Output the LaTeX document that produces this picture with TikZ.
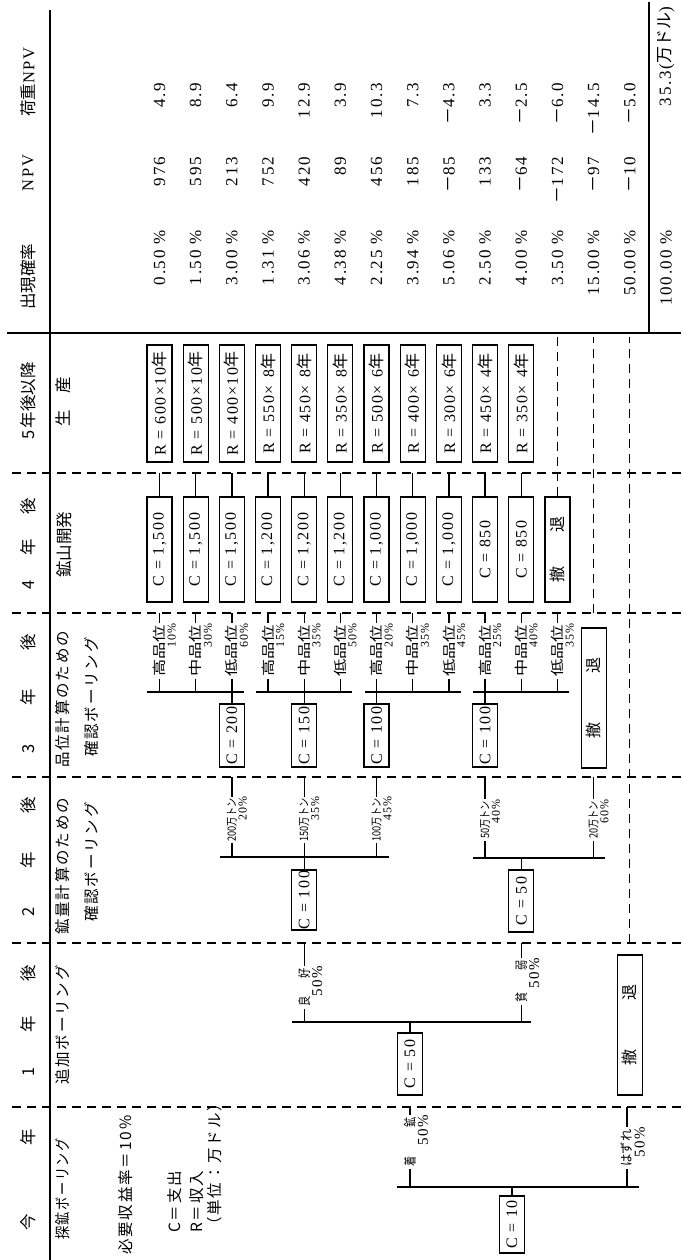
\documentclass[tikz,border=0pt]{standalone}
\usepackage{fontspec}
\usepackage{graphicx}
\setmainfont{Noto Sans CJK JP}
\newfontfamily\jp{Noto Sans CJK JP}
\newfontfamily\jpls[LetterSpace=12]{Noto Sans CJK JP}
\newfontfamily\numfont[LetterSpace=10]{Liberation Serif}
\usetikzlibrary{calc}

\newcommand{\squeeze}[2]{\scalebox{#1}[1]{#2}}
\newcommand{\mns}{{\jp －}}

\begin{document}
\begin{tikzpicture}[
    x=1pt, y=1pt, rotate=90, transform shape,
    declare function={ry(\i)=521.5-36.18*\i;},
    every node/.style={inner sep=0pt},
    colline/.style={line width=1.1pt, dash pattern=on 9pt off 6pt},
    rule/.style={line width=1.5pt},
    fork/.style={line width=1.3pt},
    cbox/.style={draw, line width=1.2pt, fill=white, minimum height=25pt,
        minimum width=#1, font=\numfont\fontsize{16}{18}\selectfont},
    cbox/.default=61pt,
    head/.style={font=\fontsize{16.5}{18}\selectfont},
    desc/.style={anchor=west, font=\jpls\fontsize{15.5}{17}\selectfont},
    brlab/.style={fill=white, inner xsep=2pt, inner ysep=1.5pt,
        font=\fontsize{13}{14}\selectfont},
    pct/.style={anchor=north east, font=\numfont\fontsize{15}{16}\selectfont},
    tonlab/.style={brlab, font=\fontsize{11.5}{12}\selectfont},
    tonpct/.style={pct, font=\numfont\fontsize{12}{13}\selectfont},
    gradelab/.style={brlab, font=\fontsize{13.5}{15}\selectfont},
    num/.style={anchor=east, font=\numfont\fontsize{17}{18}\selectfont}
]
\useasboundingbox (0,0) rectangle (1260,681);

% rules of the table
\draw[rule] (0,631) -- (1250,631);
\draw[rule] (927,0) -- (927,674);
\draw[rule] (927,32) -- (1258,32);
\foreach \x in {153,317,483,647,787}
    \draw[colline] (\x,0) -- (\x,674);

% column heads
\node[head] (h0) at (80,653) {\makebox[102pt][s]{今\hfill{}年}};
\node[head] (h1) at (239,653) {\makebox[112pt][s]{1\hfill{}年\hfill{}後}};
\node[head] (h2) at (403,653) {\makebox[120pt][s]{2\hfill{}年\hfill{}後}};
\node[head] (h3) at (566,653) {\makebox[119pt][s]{3\hfill{}年\hfill{}後}};
\node[head] (h4) at (716,653) {\makebox[92pt][s]{4\hfill{}年\hfill{}後}};
\node[head] (h5) at (859,653) {5\,年後以降};
\node[head] (h6) at (983,653) {出現確率};
\node[head] (h7) at (1087,653) {{\numfont NPV}};
\node[head] (h8) at (1178,653) {荷重{\numfont NPV}};

% what happens in each year
\node[desc] (d0) at (20,618) {\squeeze{0.85}{探鉱ボーリング}};
\node[desc] (d0r) at (5,555) {必要収益率＝10\%};
\node[desc] (d0c) at (27,506) {C＝支出};
\node[desc] (d0e) at (27,484.5) {R＝収入};
\node[desc] (d0u) at (27,466.5) {（単位：万ドル）};
\node[desc] (d1) at (175,618) {追加ボーリング};
\node[desc] (d2) at (325,618) {鉱量計算のための};
\node[desc] (d2b) at (338,589) {確認ボーリング};
\node[desc] (d3) at (492,618) {品位計算のための};
\node[desc] (d3b) at (503,589) {確認ボーリング};
\node[head] (d4) at (715,617) {鉱山開発};
\node[head] (d5) at (858,618) {\makebox[50pt][s]{生\hfill{}産}};

% year 0: exploration drilling
\node[cbox=57pt] (c10) at (35.5,169) {C = 10};
\coordinate (f0) at (73,169);
\coordinate (f0a) at (73,271);  \coordinate (e0a) at (153,271);
\coordinate (f0b) at (73,54);   \coordinate (e0b) at (153,54);
\draw[fork] (c10.east) -- (f0);
\draw[fork] ($(f0a)+(0,13)$) -- ($(f0b)-(0,12)$);
\draw[fork] (f0a) -- (e0a);
\draw[fork] (f0b) -- (e0b);
\node[brlab] (l0a) at (118,271) {\squeeze{0.78}{着\hspace{38pt}鉱}};
\node[pct] (p0a) at (l0a.south east) {50\%};
\node[brlab] (l0b) at (112,54) {\squeeze{0.95}{はずれ}};
\node[pct] (p0b) at (l0b.south east) {50\%};

% year 1: additional drilling
\node[cbox=62pt] (c50) at (196,271) {C = 50};
\coordinate (f1) at (238,271);
\coordinate (f1a) at (238,{ry(4)});  \coordinate (e1a) at (317,{ry(4)});
\coordinate (f1b) at (238,{ry(10)}); \coordinate (e1b) at (317,{ry(10)});
\draw[fork] (c50.east) -- (f1);
\draw[fork] ($(f1a)+(0,12)$) -- ($(f1b)-(0,10)$);
\draw[fork] (f1a) -- (e1a);
\draw[fork] (f1b) -- (e1b);
\node[brlab] (l1a) at (272.5,{ry(4)}) {\squeeze{0.78}{良\hspace{24pt}好}};
\node[pct] (p1a) at (l1a.south east) {50\%};
\node[brlab] (l1b) at (278.5,{ry(10)}) {\squeeze{0.78}{貧\hspace{28pt}弱}};
\node[pct] (p1b) at (l1b.south east) {50\%};
\node[cbox=140pt] (w1) at (235,{ry(13)}) {\jp\makebox[81pt][s]{撤\hfill{}退}};

% year 2: drilling for the tonnage
\node[cbox=60pt] (c100) at (360,{ry(4)}) {C = 100};
\coordinate (f2) at (403,{ry(4)});
\draw[fork] (c100.east) -- (f2);
\draw[fork] (403,{ry(2)+12}) -- (403,{ry(6)-12});
\node[cbox=62pt] (c50x) at (359,{ry(10)}) {C = 50};
\coordinate (f2x) at (402,{ry(10)});
\draw[fork] (c50x.east) -- (f2x);
\draw[fork] (402,{ry(9)+12}) -- (402,{ry(12)-11});
\foreach \i/\bx in {2/403,4/403,6/403,9/402,12/402} {
    \coordinate (k\i) at (\bx,{ry(\i)});
    \coordinate (ke\i) at (483,{ry(\i)});
    \draw[fork] (k\i) -- (ke\i);
}
\foreach \i/\tn/\pc in {2/200/20, 4/150/35, 6/100/45, 9/50/40, 12/20/60} {
    \node[tonlab] (t\i) at (440,{ry(\i)}) {\squeeze{0.8}{\tn 万トン}};
    \node[tonpct] (tp\i) at (t\i.south east) {\pc\%};
}

% year 3: drilling for the grade
\foreach \nm/\cv/\top/\at in {c200/200/0/2, c150/150/3/4, c100b/100/6/6, c100c/100/9/9} {
    \node[cbox=63pt] (\nm) at (524.5,{ry(\at)}) {C = \cv};
    \coordinate (\nm f) at (568,{ry(\at)});
    \draw[fork] (\nm.east) -- (\nm f);
    \draw[fork] (568,{ry(\top)+12}) -- (568,{ry(\top+2)-12});
}
\foreach \i in {0,...,11} {
    \coordinate (q\i) at (568,{ry(\i)});
    \coordinate (qe\i) at (647,{ry(\i)});
    \draw[fork] (q\i) -- (qe\i);
}
\foreach \i/\gr/\pc in {0/高/10, 1/中/30, 2/低/60, 3/高/15, 4/中/35, 5/低/50,
        6/高/20, 7/中/35, 8/低/45, 9/高/25, 10/中/40, 11/低/35} {
    \node[gradelab] (g\i) at (609,{ry(\i)}) {\squeeze{1.28}{\gr 品位}};
    \node[tonpct] (gp\i) at (g\i.south east) {\pc\%};
}
\node[cbox=140pt] (w3) at (562,{ry(12)}) {\jp\makebox[81pt][s]{撤\hfill{}退}};

% year 4: mine development
\foreach \i/\cv in {0/{1,500}, 1/{1,500}, 2/{1,500}, 3/{1,200}, 4/{1,200},
        5/{1,200}, 6/{1,000}, 7/{1,000}, 8/{1,000}, 9/850, 10/850} {
    \node[cbox=105pt] (m\i) at (710.5,{ry(\i)}) {C = \cv};
    \coordinate (me\i) at (787,{ry(\i)});
    \draw[fork] (m\i.east) -- (me\i);
}
\node[cbox=105pt] (m11) at (710.5,{ry(11)}) {\jp\makebox[66pt][s]{撤\hfill{}退}};

% year 5 on: production
\foreach \i/\rv/\yr in {0/600/10, 1/500/10, 2/400/10, 3/550/\enspace8,
        4/450/\enspace8, 5/350/\enspace8, 6/500/\enspace6, 7/400/\enspace6,
        8/300/\enspace6, 9/450/\enspace4, 10/350/\enspace4} {
    \node[cbox=117pt] (r\i) at (856.5,{ry(\i)}) {R = \rv×\yr{\jp 年}};
}

% withdrawn paths
\coordinate (z11) at (923,{ry(11)});
\coordinate (y12) at (647,{ry(12)}); \coordinate (z12) at (923,{ry(12)});
\coordinate (y13) at (317,{ry(13)}); \coordinate (z13) at (923,{ry(13)});
\draw[colline] (m11.east) -- (z11);
\draw[colline] (y12) -- (z12);
\draw[colline] (y13) -- (z13);

% probability and NPV
\foreach \i/\pr/\np/\wn in {0/0.50/976/4.9, 1/1.50/595/8.9, 2/3.00/213/6.4,
        3/1.31/752/9.9, 4/3.06/420/12.9, 5/4.38/89/3.9, 6/2.25/456/10.3,
        7/3.94/185/7.3, 8/5.06/\mns85/\mns4.3, 9/2.50/133/3.3,
        10/4.00/\mns64/\mns2.5, 11/3.50/\mns172/\mns6.0,
        12/15.00/\mns97/\mns14.5, 13/50.00/\mns10/\mns5.0} {
    \node[num] (pr\i) at (1030,{ry(\i)}) {\pr~\%};
    \node[num] (np\i) at (1103,{ry(\i)}) {\np};
    \node[num] (wn\i) at (1177,{ry(\i)}) {\wn};
}
\node[num] (prt) at (1030,{ry(14)}) {100.00~\%};
\node[num] (wnt) at (1253,{ry(14)}) {35.3({\jp 万ドル})};
\end{tikzpicture}
\end{document}
